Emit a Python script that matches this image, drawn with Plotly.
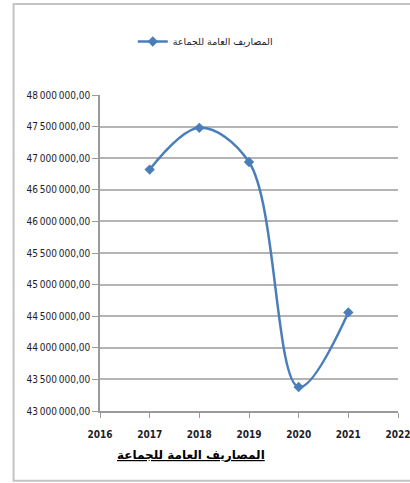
import plotly.graph_objects as go

# Data
years = [2017, 2018, 2019, 2020, 2021]
expenses = [46820000, 47480000, 46940000, 43380000, 44560000]
series_name = "المصاريف العامة للجماعة"
chart_title = "المصاريف العامة للجماعة"

x_ticks = [2016, 2017, 2018, 2019, 2020, 2021, 2022]
y_ticks = [43000000 + 500000 * i for i in range(11)]
y_tick_text = [f"{v:,.2f}".replace(",", "\u2009").replace(".", ",") for v in y_ticks]

LINE_BLUE = "#4a7ebb"
GRID = "#b4b4b4"
TEXT = "#1c1c2a"

fig = go.Figure()

fig.add_trace(
    go.Scatter(
        x=years,
        y=expenses,
        name=series_name,
        mode="lines+markers",
        line=dict(color=LINE_BLUE, width=2.5, shape="spline", smoothing=1),
        marker=dict(symbol="diamond", size=8, color=LINE_BLUE),
        showlegend=True,
    )
)

# Outer chart frame (light grey, open on the right like the screenshot)
fig.add_shape(
    type="rect",
    xref="paper", yref="paper",
    x0=-0.29, x1=1.2, y0=-0.221, y1=1.288,
    line=dict(color="#c4c4c4", width=2),
    layer="below",
)

# Underlined bold title under the x axis
fig.add_annotation(
    text=f"<b><u>{chart_title}</u></b>",
    xref="paper", yref="paper",
    x=0.305, y=-0.14,
    xanchor="center", yanchor="middle",
    showarrow=False,
    font=dict(family="DejaVu Sans", size=12, color="#000000"),
)

fig.update_layout(
    width=410,
    height=483,
    margin=dict(l=100, r=12, t=95, b=72, autoexpand=False),
    paper_bgcolor="white",
    plot_bgcolor="white",
    font=dict(family="DejaVu Sans Condensed", size=10, color=TEXT),
    showlegend=True,
    legend=dict(
        x=0.11, y=1.215, xanchor="left", yanchor="top",
        font=dict(family="DejaVu Sans", size=9.5, color=TEXT),
        bgcolor="rgba(0,0,0,0)",
    ),
    xaxis=dict(
        range=[2016, 2022],
        tickvals=x_ticks,
        ticktext=[f"<b>{t}</b>" for t in x_ticks],
        tickfont=dict(family="DejaVu Sans Condensed", size=10, color=TEXT),
        showgrid=False,
        zeroline=False,
        showline=True,
        linecolor="#9a9a9a",
        linewidth=1.5,
        ticks="outside",
        ticklen=5,
        tickcolor="#9a9a9a",
        ticklabelstandoff=8,
        ticklabeloverflow="allow",
        automargin=False,
    ),
    yaxis=dict(
        range=[43000000, 48000000],
        tickvals=y_ticks,
        ticktext=y_tick_text,
        tickfont=dict(family="DejaVu Sans Condensed", size=10, color=TEXT),
        showgrid=True,
        gridcolor=GRID,
        gridwidth=1.5,
        zeroline=False,
        showline=True,
        linecolor="#9a9a9a",
        linewidth=1.5,
        ticks="outside",
        ticklen=6,
        tickcolor="#9a9a9a",
        automargin=False,
    ),
)

# drop the browser's default 8px body margin so the figure sits at the top-left
fig.write_html(
    "out.html",
    config={"displayModeBar": False},
    post_script="document.body.style.margin='0';",
)
